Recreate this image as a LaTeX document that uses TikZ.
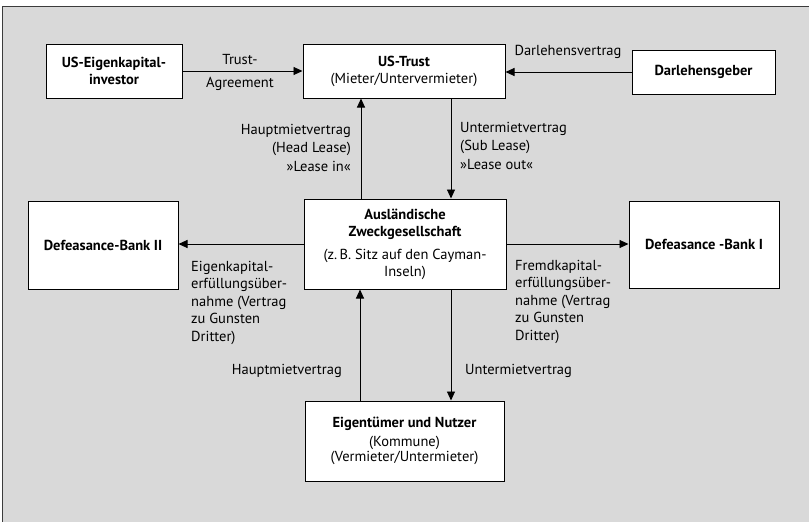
\documentclass[tikz,border=0pt]{standalone}
\usepackage{fontspec}
\setmainfont{PT Sans}
\usetikzlibrary{arrows.meta}
\definecolor{panel}{HTML}{D9D9D9}
\definecolor{frameline}{HTML}{3C3C3C}
\tikzset{
  box/.style={draw=black, line width=1pt, fill=white, inner sep=0pt, align=center,
              font=\fontsize{14.5}{17}\selectfont},
  arr/.style={-{Triangle[length=9pt,width=8pt]}, line width=0.9pt},
  lbl/.style={inner sep=0pt, font=\fontsize{14.5}{18.5}\selectfont},
  sidelbl/.style={inner sep=0pt, align=left, font=\fontsize{14.5}{17.4}\selectfont}
}
\begin{document}
\begin{tikzpicture}[x=1pt,y=-1pt]
  % page and grey panel with its top and left rule
  \useasboundingbox (0,0) rectangle (809,522);
  \fill[white] (0,0) rectangle (809,522);
  \fill[panel] (2.5,6.5) rectangle (809,522);
  \draw[frameline, line width=1.6pt] (2.5,522) -- (2.5,6.5) -- (809,6.5);

  % parties
  \node[box, minimum width=136pt, minimum height=54pt] (inv) at (114,71)
    {\textbf{US-Eigenkapital-}\\\textbf{investor}};
  \node[box, minimum width=202pt, minimum height=54pt] (trust) at (404,71)
    {\textbf{US-Trust}\\(Mieter/Untervermieter)};
  \node[box, minimum width=143pt, minimum height=44pt] (darl) at (703.5,72)
    {\textbf{Darlehensgeber}};
  \node[box, minimum width=202pt, minimum height=90pt] (zweck) at (405,244)
    {\textbf{Ausländische}\\\textbf{Zweckgesellschaft}\\[6pt](z.\,B. Sitz auf den Cayman-\\Inseln)};
  \node[box, minimum width=150pt, minimum height=88pt] (bank2) at (103,245)
    {\textbf{Defeasance-Bank II}};
  \node[box, minimum width=150pt, minimum height=87pt] (bank1) at (704,244.5)
    {\textbf{Defeasance -Bank I}};
  \node[box, minimum width=199pt, minimum height=80pt] (owner) at (404.5,441)
    {\textbf{Eigentümer und Nutzer}\\[2.5pt](Kommune)\\[-2pt](Vermieter/Untermieter)};

  % contracts
  \draw[arr] (inv.east) -- (trust.west);
  \node[lbl, align=center] (lta) at (240,72.5) {Trust-\\[4.5pt]Agreement};

  \draw[arr] (darl.west) -- (darl.west -| trust.east);
  \node[lbl] (ldv) at (568,52) {Darlehensvertrag};

  \draw[arr] (zweck.north -| 361,0) -- (trust.south -| 361,0);
  \node[lbl, align=right, anchor=north east] (lhl) at (351,124)
    {Hauptmietvertrag\\(Head Lease)\\»Lease in«};

  \draw[arr] (trust.south -| 451,0) -- (zweck.north -| 451,0);
  \node[lbl, align=left, anchor=north west] (lsl) at (460,122)
    {Untermietvertrag\\(Sub Lease)\\»Lease out«};

  \draw[arr] (zweck.west) -- (zweck.west -| bank2.east);
  \node[sidelbl, anchor=north west] (lek) at (191,261)
    {Eigenkapital-\\erfüllungsüber-\\nahme (Vertrag\\zu Gunsten\\Dritter)};

  \draw[arr] (zweck.east) -- (zweck.east -| bank1.west);
  \node[sidelbl, anchor=north west] (lfk) at (515,260)
    {Fremdkapital-\\erfüllungsüber-\\nahme (Vertrag\\zu Gunsten\\Dritter)};

  \draw[arr] (owner.north -| 360,0) -- (zweck.south -| 360,0);
  \node[lbl, anchor=east] (lhm) at (342,371) {Hauptmietvertrag};

  \draw[arr] (zweck.south -| 451,0) -- (owner.north -| 451,0);
  \node[lbl, anchor=west] (lum) at (465,371) {Untermietvertrag};
\end{tikzpicture}
\end{document}
